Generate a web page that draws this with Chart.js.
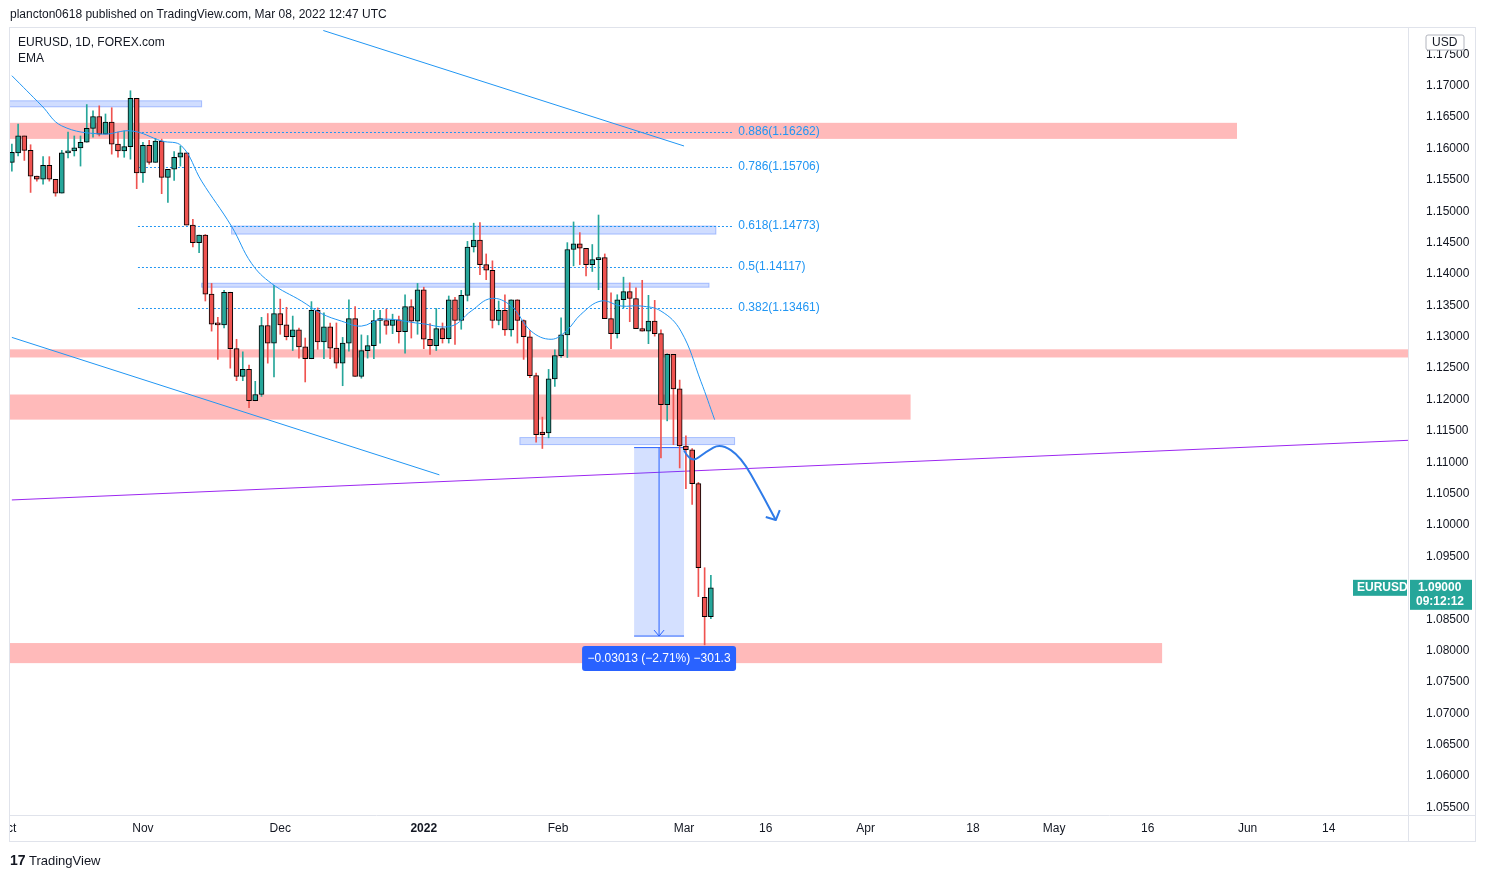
<!DOCTYPE html>
<html>
<head>
<meta charset="utf-8">
<script src="https://cdn.jsdelivr.net/npm/chart.js@4/dist/chart.umd.min.js"></script>
<style>
  body { margin: 0; background: #fff; font-family: "Liberation Sans", Arial, sans-serif; }
  #wrap { position: relative; width: 1486px; height: 878px; }
  canvas { position: absolute; left: 0; top: 0; }
  .txt { position: absolute; color: #131722; font-size: 12px; white-space: nowrap; }
</style>
</head>
<body>
<div id="wrap">
  <canvas id="c" width="1486" height="878"></canvas>
  <div class="txt" style="left:10px;top:7px;">plancton0618 published on TradingView.com, Mar 08, 2022 12:47 UTC</div>
  <div class="txt" style="left:18px;top:35px;">EURUSD, 1D, FOREX.com</div>
  <div class="txt" style="left:18px;top:51px;">EMA</div>
  <div class="txt" style="left:10px;top:852px;font-size:13px;"><b style="font-size:14px;">17</b> TradingView</div>
</div>
<script>
// EURUSD daily, bar index 0 = 1 Oct 2021
const opens = [1.1578,1.1593,1.1620,1.1597,1.1556,1.1551,1.1573,1.1551,1.1529,1.1593,1.1596,1.1601,1.1610,1.1632,1.1651,1.1623,1.1642,1.1607,1.1596,1.1603,
  1.1680,1.1561,1.1605,1.1578,1.1612,1.1554,1.1567,1.1586,1.1593,1.1478,
  1.1450,1.1462,1.1368,1.1320,1.1319,1.1371,1.1281,1.1237,1.1248,1.1198,
  1.1208,1.1318,1.1290,1.1337,1.1319,1.1300,1.1311,1.1284,1.1265,1.1342,
  1.1292,1.1316,1.1282,1.1258,1.1290,1.1329,1.1237,1.1278,1.1286,1.1326,
  1.1326,1.1318,1.1327,1.1308,1.1348,1.1325,1.1375,1.1296,1.1286,1.1313,
  1.1297,1.1359,1.1326,1.1366,1.1443,1.1454,1.1415,1.1406,1.1326,1.1342,
  1.1311,1.1359,1.1326,1.1300,1.1238,1.1148,1.1147,1.1233,1.1270,1.1303,
  1.1439,1.1448,1.1441,1.1415,1.1423,1.1426,1.1329,1.1305,1.1359,1.1372,
  1.1361,1.1313,1.1309,1.1325,1.1305,1.1192,1.1272,1.1217,1.1126,1.1120,
  1.1066,1.0885,1.0854];
const highs = [1.1607,1.1639,1.1620,1.1606,1.1556,1.1587,1.1587,1.1551,1.1597,1.1626,1.1620,1.1620,1.1670,1.1660,1.1668,1.1655,1.1665,1.1626,1.1628,1.1692,
  1.1680,1.1610,1.1613,1.1616,1.1615,1.1567,1.1595,1.1604,1.1593,1.1487,
  1.1462,1.1463,1.1385,1.1331,1.1374,1.1371,1.1296,1.1276,1.1255,1.1229,
  1.1331,1.1337,1.1382,1.1360,1.1347,1.1333,1.1314,1.1298,1.1356,1.1346,
  1.1338,1.1322,1.1322,1.1299,1.1359,1.1348,1.1303,1.1302,1.1342,1.1342,
  1.1344,1.1336,1.1333,1.1367,1.1359,1.1385,1.1379,1.1321,1.1345,1.1322,
  1.1365,1.1363,1.1374,1.1452,1.1481,1.1482,1.1432,1.1421,1.1357,1.1367,
  1.1359,1.1359,1.1327,1.1310,1.1242,1.1172,1.1248,1.1279,1.1330,1.1450,
  1.1483,1.1466,1.1441,1.1447,1.1494,1.1432,1.1370,1.1367,1.1395,1.1386,
  1.1378,1.1390,1.1366,1.1358,1.1311,1.1273,1.1272,1.1231,1.1142,1.1122,
  1.1068,1.0932,1.0920];
const lows = [1.1564,1.1588,1.1581,1.1530,1.1548,1.1543,1.1548,1.1524,1.1529,1.1585,1.1588,1.1572,1.1610,1.1618,1.1620,1.1623,1.1591,1.1586,1.1586,1.1583,
  1.1536,1.1546,1.1575,1.1578,1.1528,1.1514,1.1549,1.1572,1.1478,1.1443,
  1.1434,1.1357,1.1309,1.1264,1.1314,1.1250,1.1230,1.1230,1.1187,1.1198,
  1.1205,1.1258,1.1236,1.1304,1.1295,1.1278,1.1266,1.1228,1.1265,1.1280,
  1.1265,1.1265,1.1250,1.1222,1.1277,1.1237,1.1234,1.1266,1.1265,1.1290,
  1.1304,1.1305,1.1290,1.1274,1.1298,1.1304,1.1281,1.1272,1.1278,1.1290,
  1.1290,1.1288,1.1312,1.1357,1.1435,1.1399,1.1391,1.1314,1.1319,1.1302,
  1.1301,1.1290,1.1264,1.1235,1.1132,1.1122,1.1139,1.1221,1.1267,1.1267,
  1.1413,1.1415,1.1397,1.1404,1.1375,1.1329,1.1281,1.1298,1.1346,1.1324,
  1.1313,1.1309,1.1289,1.1301,1.1107,1.1166,1.1128,1.1091,1.1058,1.1033,
  1.0886,1.0809,1.0851];
const closes = [1.1594,1.1620,1.1597,1.1556,1.1551,1.1573,1.1551,1.1529,1.1593,1.1596,1.1601,1.1610,1.1632,1.1651,1.1623,1.1642,1.1607,1.1596,1.1603,1.1680,
  1.1561,1.1605,1.1578,1.1612,1.1554,1.1567,1.1586,1.1593,1.1478,1.1450,
  1.1462,1.1368,1.1320,1.1319,1.1371,1.1281,1.1237,1.1248,1.1198,1.1208,
  1.1318,1.1290,1.1337,1.1319,1.1300,1.1311,1.1284,1.1265,1.1342,1.1292,
  1.1316,1.1282,1.1258,1.1290,1.1329,1.1237,1.1278,1.1286,1.1326,1.1326,
  1.1318,1.1327,1.1308,1.1348,1.1325,1.1375,1.1296,1.1286,1.1313,1.1297,
  1.1359,1.1326,1.1366,1.1443,1.1454,1.1415,1.1406,1.1326,1.1342,1.1311,
  1.1359,1.1326,1.1300,1.1238,1.1144,1.1144,1.1233,1.1270,1.1303,1.1439,
  1.1448,1.1441,1.1415,1.1423,1.1426,1.1329,1.1305,1.1359,1.1372,1.1361,
  1.1313,1.1309,1.1325,1.1305,1.1192,1.1272,1.1217,1.1126,1.1120,1.1066,
  1.0932,1.0854,1.0900];

// EMA line (bar index, price)
const emaIdx = [0,4.8,8,14.4,19.2,24,27.2,30.4,35.2,38.4,41.6,46.4,49.6,52.8,56,59.2,65.6,70.4,73.6,76.8,80,83.2,86.4,88.8,91.2,94.4,97.6,100.8,104,107.2,110.4,112.6];
const emaVal = [1.1716,1.1668,1.1636,1.1623,1.1628,1.1612,1.1604,1.1548,1.1476,1.1417,1.1385,1.1357,1.1337,1.1325,1.1317,1.1328,1.1321,1.1317,1.1341,1.1361,1.1349,1.1309,1.1296,1.1309,1.1336,1.1357,1.1349,1.1349,1.1341,1.1309,1.1229,1.1168];

// date labels on the time axis (bar index, text)
const xTickIdx = [-0.8,21,43,66,87.5,107.7,120.8,136.8,154,167,182,198,211];
const xTickText = ["Oct","Nov","Dec","2022","Feb","Mar","16","Apr","18","May","16","Jun","14"];
const yTicks = [1.055,1.06,1.065,1.07,1.075,1.08,1.085,1.09,1.095,1.1,1.105,1.11,1.115,1.12,1.125,1.13,1.135,1.14,1.145,1.15,1.155,1.16,1.165,1.17,1.175];

// drawn zones [fromIdx, toIdx, priceLow, priceHigh]
const redZones = [[-1,196.3,1.16153,1.16409],[-1,224,1.1267,1.1280],[-1,144,1.1168,1.1208],[-1,184.3,1.0780,1.0812]];
const blueZones = [[-1,30.4,1.16664,1.16760],[35.2,112.8,1.14636,1.14764],[30.4,111.7,1.13790,1.13853],[81.4,115.8,1.11282,1.11394]];
const fibLevels = [1.16262,1.15706,1.14773,1.14117,1.13461];
const fibText = ["0.886(1.16262)","0.786(1.15706)","0.618(1.14773)","0.5(1.14117)","0.382(1.13461)"];
const curveIdx = [107.7,108.8,111.2,113.6,116.8,120,122.4];
const curveVal = [1.1119,1.1098,1.1117,1.1130,1.1109,1.1053,1.1008];

const UP = "#26a69a", DOWN = "#ef5350";
const isUp = opens.map((o, i) => closes[i] >= o);

const drawings = {
  id: "drawings",
  beforeDatasetsDraw(chart) {
    const { ctx, chartArea: a, scales: { x, y } } = chart;
    ctx.save();
    ctx.beginPath(); ctx.rect(a.left, a.top, a.right - a.left, a.bottom - a.top); ctx.clip();
    redZones.forEach(z => {
      ctx.fillStyle = "rgba(255,140,140,0.6)";
      ctx.fillRect(x.getPixelForValue(z[0]), y.getPixelForValue(z[3]), x.getPixelForValue(z[1]) - x.getPixelForValue(z[0]), y.getPixelForValue(z[2]) - y.getPixelForValue(z[3]));
    });
    blueZones.forEach(z => {
      const x0 = x.getPixelForValue(z[0]), y0 = y.getPixelForValue(z[3]);
      const w = x.getPixelForValue(z[1]) - x0, h = y.getPixelForValue(z[2]) - y0;
      ctx.fillStyle = "rgba(41,98,255,0.22)"; ctx.fillRect(x0, y0, w, h);
      ctx.strokeStyle = "rgba(41,98,255,0.35)"; ctx.strokeRect(x0, y0, w, h);
    });
    // fib levels
    ctx.setLineDash([2, 2]); ctx.strokeStyle = "#2196f3"; ctx.lineWidth = 1;
    fibLevels.forEach(p => {
      const py = Math.round(y.getPixelForValue(p)) + 0.5;
      ctx.beginPath(); ctx.moveTo(x.getPixelForValue(20.2), py); ctx.lineTo(x.getPixelForValue(115.7), py); ctx.stroke();
    });
    ctx.setLineDash([]);
    ctx.fillStyle = "#2196f3"; ctx.font = "12px 'Liberation Sans', Arial"; ctx.textBaseline = "middle";
    fibLevels.forEach((p, i) => ctx.fillText(fibText[i], x.getPixelForValue(116.4), y.getPixelForValue(p)));
    // trend lines
    const line = (i0, p0, i1, p1, col, w) => {
      ctx.strokeStyle = col; ctx.lineWidth = w; ctx.beginPath();
      ctx.moveTo(x.getPixelForValue(i0), y.getPixelForValue(p0)); ctx.lineTo(x.getPixelForValue(i1), y.getPixelForValue(p1)); ctx.stroke();
    };
    line(49.9, 1.1788, 107.7, 1.1604, "#2196f3", 1);
    line(0, 1.1299, 68.5, 1.1080, "#2196f3", 1);
    line(0, 1.1040, 223.7, 1.1135, "#9c27f0", 1);
    // measure box
    const mx0 = x.getPixelForValue(99.7), mx1 = x.getPixelForValue(107.7);
    const my0 = y.getPixelForValue(1.11234), my1 = y.getPixelForValue(1.08231);
    ctx.fillStyle = "rgba(41,98,255,0.2)"; ctx.fillRect(mx0, my0, mx1 - mx0, my1 - my0);
    ctx.strokeStyle = "#2962ff"; ctx.lineWidth = 1;
    ctx.beginPath(); ctx.moveTo(mx0, my0); ctx.lineTo(mx1, my0); ctx.moveTo(mx0, my1); ctx.lineTo(mx1, my1);
    const mc = (mx0 + mx1) / 2;
    ctx.moveTo(mc, my0); ctx.lineTo(mc, my1); ctx.moveTo(mc - 5, my1 - 6); ctx.lineTo(mc, my1); ctx.lineTo(mc + 5, my1 - 6); ctx.stroke();
    ctx.restore();
  },
  afterDraw(chart) {
    const { ctx, chartArea: a, scales: { x, y } } = chart;
    ctx.save();
    // curved arrow
    ctx.beginPath(); ctx.rect(a.left, a.top, a.right - a.left, a.bottom - a.top); ctx.clip();
    ctx.strokeStyle = "#2f7be8"; ctx.lineWidth = 2; ctx.lineJoin = "round";
    const pts = curveIdx.map((v, i) => [x.getPixelForValue(v), y.getPixelForValue(curveVal[i])]);
    ctx.beginPath(); ctx.moveTo(pts[0][0], pts[0][1]);
    for (let i = 1; i < pts.length - 1; i++) {
      const mxp = (pts[i][0] + pts[i + 1][0]) / 2, myp = (pts[i][1] + pts[i + 1][1]) / 2;
      ctx.quadraticCurveTo(pts[i][0], pts[i][1], mxp, myp);
    }
    const e = pts[pts.length - 1];
    ctx.lineTo(e[0], e[1]); ctx.stroke();
    ctx.beginPath(); ctx.moveTo(e[0] - 10, e[1] - 3); ctx.lineTo(e[0], e[1]); ctx.lineTo(e[0] + 4, e[1] - 10); ctx.stroke();
    ctx.restore();

    ctx.save();
    ctx.font = "12px 'Liberation Sans', Arial"; ctx.textBaseline = "middle";
    // measure label
    const lc = x.getPixelForValue(103.7), ly = y.getPixelForValue(1.0788);
    ctx.fillStyle = "#2962ff"; roundRect(ctx, lc - 77, ly - 12, 154, 25, 3); ctx.fill();
    ctx.fillStyle = "#fff"; ctx.textAlign = "center"; ctx.fillText("\u22120.03013 (\u22122.71%) \u2212301.3", lc, ly + 1);
    // frame
    ctx.strokeStyle = "#e0e3eb"; ctx.lineWidth = 1;
    ctx.strokeRect(a.left - 0.5, a.top - 0.5, 1476 - a.left, 842 - a.top);
    ctx.beginPath(); ctx.moveTo(a.right + 0.5, a.top); ctx.lineTo(a.right + 0.5, 842);
    ctx.moveTo(a.left, a.bottom + 0.5); ctx.lineTo(1476, a.bottom + 0.5); ctx.stroke();
    // time labels
    ctx.fillStyle = "#131722"; ctx.textAlign = "center";
    ctx.beginPath(); ctx.rect(a.left, a.bottom, a.right - a.left, 30); ctx.save(); ctx.clip();
    xTickIdx.forEach((v, i) => {
      ctx.font = xTickText[i] === "2022" ? "bold 12px 'Liberation Sans', Arial" : "12px 'Liberation Sans', Arial";
      ctx.fillText(xTickText[i], x.getPixelForValue(v), a.bottom + 14);
    });
    ctx.restore();
    ctx.font = "12px 'Liberation Sans', Arial";
    // last price labels
    const py = y.getPixelForValue(closes[closes.length - 1]);
    ctx.fillStyle = UP;
    ctx.fillRect(a.right - 55, py - 8, 54, 16);
    ctx.fillRect(a.right + 2, py - 8, 62, 30);
    ctx.fillStyle = "#fff"; ctx.textAlign = "left";
    ctx.font = "bold 12px 'Liberation Sans', Arial";
    ctx.fillText("EURUSD", a.right - 51, py);
    ctx.fillText(closes[closes.length - 1].toFixed(5), a.right + 10, py);
    ctx.fillText("09:12:12", a.right + 8, py + 14);
    ctx.font = "12px 'Liberation Sans', Arial";
    // currency box
    ctx.fillStyle = "#fff"; ctx.strokeStyle = "#b2b5be";
    roundRect(ctx, a.right + 18, 35, 38, 15, 2); ctx.fill(); ctx.stroke();
    ctx.fillStyle = "#131722"; ctx.fillText("USD", a.right + 24, 43);
    ctx.restore();
  }
};

function roundRect(ctx, x, y, w, h, r) {
  ctx.beginPath();
  ctx.moveTo(x + r, y); ctx.lineTo(x + w - r, y); ctx.quadraticCurveTo(x + w, y, x + w, y + r);
  ctx.lineTo(x + w, y + h - r); ctx.quadraticCurveTo(x + w, y + h, x + w - r, y + h);
  ctx.lineTo(x + r, y + h); ctx.quadraticCurveTo(x, y + h, x, y + h - r);
  ctx.lineTo(x, y + r); ctx.quadraticCurveTo(x, y, x + r, y); ctx.closePath();
}

new Chart(document.getElementById("c"), {
  type: "bar",
  data: {
    datasets: [
      {
        type: "line",
        data: emaIdx.map((v, i) => ({ x: v, y: emaVal[i] })),
        borderColor: "#2196f3", borderWidth: 1, pointRadius: 0, tension: 0.4, order: 0
      },
      {
        data: highs.map((h, i) => ({ x: i, y: [lows[i], h] })),
        backgroundColor: isUp.map(u => u ? UP : DOWN),
        barThickness: 1, grouped: false, order: 2
      },
      {
        data: opens.map((o, i) => ({ x: i, y: [o, closes[i]] })),
        backgroundColor: isUp.map(u => u ? UP : DOWN),
        borderColor: "#000", borderWidth: 1, borderSkipped: false,
        barThickness: 5, minBarLength: 2, grouped: false, order: 1
      }
    ]
  },
  options: {
    responsive: false, animation: false,
    layout: { padding: { left: 10, top: 28, right: 10, bottom: 36 } },
    plugins: { legend: { display: false }, tooltip: { enabled: false } },
    scales: {
      x: {
        type: "linear", min: -0.3, max: 223.7, offset: false,
        grid: { display: false }, border: { display: false },
        ticks: { display: false },
        afterFit: s => { s.height = 27; }
      },
      y: {
        position: "right", min: 1.0538, max: 1.1792,
        grid: { display: false }, border: { display: false },
        afterBuildTicks: s => { s.ticks = yTicks.map(v => ({ value: v })); },
        afterFit: s => { s.width = 68; },
        ticks: {
          color: "#131722", padding: 10, font: { size: 12, family: "'Liberation Sans', Arial" },
          callback: v => v.toFixed(5)
        }
      }
    }
  },
  plugins: [drawings]
});
</script>
</body>
</html>
